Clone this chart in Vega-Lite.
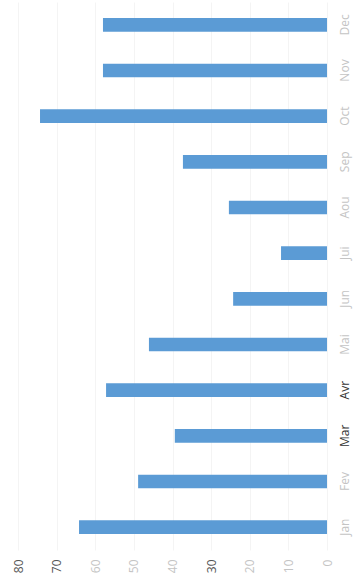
{
  "$schema": "https://vega.github.io/schema/vega-lite/v6.json",
  "width": 309,
  "height": 548,
  "autosize": {"type": "none"},
  "padding": {"left": 18, "top": 2, "right": 35, "bottom": 37},
  "background": "white",
  "config": {"view": {"stroke": null}},
  "data": {
    "values": [
      {"mois": "Jan", "valeur": 64.2},
      {"mois": "Fev", "valeur": 48.9},
      {"mois": "Mar", "valeur": 39.4},
      {"mois": "Avr", "valeur": 57.2},
      {"mois": "Mai", "valeur": 46.1},
      {"mois": "Jun", "valeur": 24.3},
      {"mois": "Jui", "valeur": 11.9},
      {"mois": "Aou", "valeur": 25.4},
      {"mois": "Sep", "valeur": 37.3},
      {"mois": "Oct", "valeur": 74.3},
      {"mois": "Nov", "valeur": 58},
      {"mois": "Dec", "valeur": 58}
    ]
  },
  "mark": {"type": "bar", "color": "#5b9bd5"},
  "encoding": {
    "y": {
      "field": "mois",
      "type": "nominal",
      "sort": ["Dec", "Nov", "Oct", "Sep", "Aou", "Jui", "Jun", "Mai", "Avr", "Mar", "Fev", "Jan"],
      "scale": {"paddingInner": 0.7, "paddingOuter": 0.35},
      "axis": {
        "orient": "right",
        "title": null,
        "domain": false,
        "ticks": false,
        "labelAngle": -90,
        "labelAlign": "center",
        "labelBaseline": "top",
        "labelPadding": 12,
        "labelFont": "Open Sans",
        "labelFontSize": 12,
        "labelColor": {"expr": "datum.label == 'Avr' || datum.label == 'Mar' ? '#333333' : '#c4c4c4'"}
      }
    },
    "x": {
      "field": "valeur",
      "type": "quantitative",
      "scale": {"domain": [0, 80], "reverse": true, "nice": false},
      "axis": {
        "orient": "bottom",
        "title": null,
        "values": [0, 10, 20, 30, 40, 50, 60, 70, 80],
        "domain": false,
        "ticks": false,
        "grid": true,
        "gridColor": "#f4f4f4",
        "labelAngle": -90,
        "labelAlign": "right",
        "labelBaseline": "middle",
        "labelPadding": 9,
        "labelFont": "Open Sans",
        "labelFontSize": 12,
        "labelColor": {"expr": "datum.value == 80 || datum.value == 70 || datum.value == 30 ? '#555555' : '#c4c4c4'"}
      }
    }
  }
}
